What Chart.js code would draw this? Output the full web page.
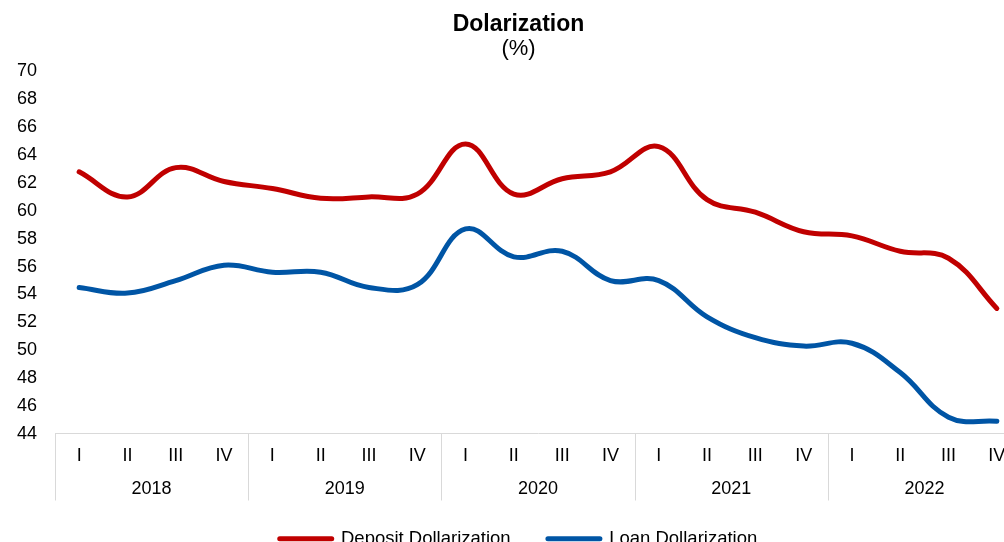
<!DOCTYPE html>
<html>
<head>
<meta charset="utf-8">
<script src="https://cdn.jsdelivr.net/npm/chart.js@4"></script>
<style>
  html, body { margin: 0; padding: 0; background: #fff; overflow: hidden; }
  #wrap { position: relative; width: 1036px; height: 558px; }
</style>
</head>
<body>
<div id="wrap"><canvas id="dollarChart"></canvas></div>
<script>
// quarters and years on the two-level x axis
const quarters = ["I", "II", "III", "IV", "I", "II", "III", "IV", "I", "II", "III", "IV",
                  "I", "II", "III", "IV", "I", "II", "III", "IV"];
const years = ["2018", "2019", "2020", "2021", "2022"];

// values (%)
const depositDollarization = [62.8, 61.0, 63.1, 62.1, 61.6, 60.9, 61.0, 61.2, 64.8, 61.2,
                              62.3, 62.8, 64.6, 60.8, 59.9, 58.5, 58.2, 57.1, 56.6, 53.0];
const loanDollarization = [54.5, 54.1, 55.0, 56.1, 55.6, 55.6, 54.5, 54.7, 58.7, 56.7,
                           57.1, 55.0, 55.0, 52.4, 50.9, 50.3, 50.5, 48.4, 45.2, 44.9];

const FONT = "'Liberation Sans', Arial, sans-serif";
const AXIS_GREY = "#d9d9d9";

// vertical separators between the year groups, spanning both x rows
const yearSeparators = {
  id: "yearSeparators",
  afterDraw(chart) {
    const x = chart.scales.x;
    const x2 = chart.scales.x2;
    const { ctx } = chart;
    ctx.save();
    ctx.strokeStyle = AXIS_GREY;
    ctx.lineWidth = 1;
    for (let i = 0; i <= years.length; i++) {
      const px = Math.round(x.getPixelForValue(i * 4 - 0.5)) + 0.5;
      ctx.beginPath();
      ctx.moveTo(px, x.top);
      ctx.lineTo(px, x2.bottom - 2);
      ctx.stroke();
    }
    ctx.restore();
  }
};

new Chart(document.getElementById("dollarChart"), {
  type: "line",
  data: {
    labels: quarters,
    datasets: [
      {
        label: "Deposit Dollarization",
        data: depositDollarization,
        borderColor: "#C00000",
        backgroundColor: "#C00000",
        borderWidth: 5,
        borderCapStyle: "round",
        pointRadius: 0,
        tension: 0.4,
        fill: false
      },
      {
        label: "Loan Dollarization",
        data: loanDollarization,
        borderColor: "#0055A5",
        backgroundColor: "#0055A5",
        borderWidth: 5,
        borderCapStyle: "round",
        pointRadius: 0,
        tension: 0.4,
        fill: false
      }
    ]
  },
  plugins: [yearSeparators],
  options: {
    responsive: true,
    maintainAspectRatio: false,
    animation: false,
    layout: { padding: { left: 16, right: 15, top: 0, bottom: 0 } },
    plugins: {
      title: {
        display: true,
        text: "Dolarization",
        color: "#000",
        font: { family: FONT, size: 23, weight: "bold", lineHeight: 1.0 },
        padding: { top: 13, bottom: 0 }
      },
      subtitle: {
        display: true,
        text: "(%)",
        color: "#000",
        font: { family: FONT, size: 22, lineHeight: 1.2 },
        padding: { top: 0, bottom: 9 }
      },
      legend: {
        position: "bottom",
        labels: {
          usePointStyle: true,
          pointStyle: "line",
          pointStyleWidth: 52,
          color: "#000",
          font: { family: FONT, size: 18.5 },
          padding: 27,
          generateLabels(chart) {
            const items = Chart.defaults.plugins.legend.labels.generateLabels(chart);
            items.forEach((item, i) => {
              item.lineWidth = 5;
              item.lineCap = "round";
              // a little extra room between the two entries
              if (i === 0) item.text += "  ";
            });
            return items;
          }
        }
      },
      tooltip: { enabled: false }
    },
    scales: {
      x: {
        type: "category",
        offset: true,
        grid: { display: false, drawTicks: false },
        border: { display: true, color: AXIS_GREY, width: 1 },
        ticks: { color: "#000", font: { family: FONT, size: 18 }, padding: 11, maxRotation: 0, autoSkip: false }
      },
      x2: {
        type: "category",
        labels: years,
        position: "bottom",
        offset: true,
        grid: { display: false, drawTicks: false },
        border: { display: false },
        ticks: { color: "#000", font: { family: FONT, size: 18 }, padding: 1, maxRotation: 0 },
        afterFit(scale) { scale.height = 25; }
      },
      y: {
        min: 44,
        max: 70,
        grid: { display: false, drawTicks: false },
        border: { display: false },
        ticks: { stepSize: 2, color: "#000", font: { family: FONT, size: 18 }, padding: 18 },
        afterFit(scale) { scale.width = 39; }
      }
    }
  }
});
</script>
</body>
</html>
